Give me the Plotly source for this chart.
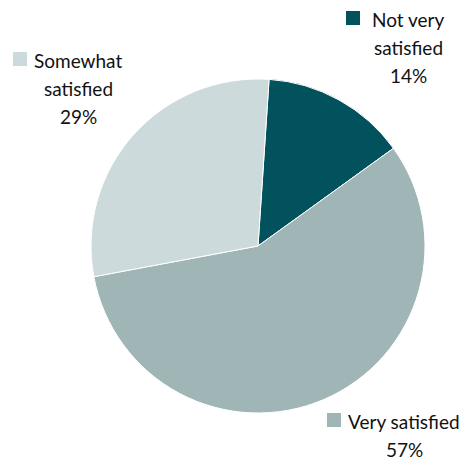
import plotly.graph_objects as go

labels = ['Not very satisfied', 'Very satisfied', 'Somewhat satisfied']
values = [14, 57, 29]
colors = ['#02525E', '#A0B6B6', '#CCDADB']

# label text lines, shown outside the pie next to a small colour key
label_lines = [['Not very', 'satisfied', '14%'],
               ['Very satisfied', '57%'],
               ['Somewhat', 'satisfied', '29%']]

W, H = 463, 461

def px(x):
    return x / W

def py(y):
    return 1 - y / H

fig = go.Figure()
fig.add_trace(go.Pie(labels=labels, values=values, sort=False, direction='clockwise',
                     rotation=3.8, textinfo='none', hoverinfo='label+percent',
                     marker=dict(colors=colors, line=dict(color='white', width=1)),
                     domain=dict(x=[px(91), px(425)], y=[py(413), py(79)])))

# where each label block sits (pixel centre x, first line y, key square left/top)
label_pos = [(408, 19, 346, 11), (404, 421, 327, 413), (78, 60, 13, 52)]
line_gap = 28.5

for lines, (cx, y0, kx, ky), col in zip(label_lines, label_pos, colors):
    for i, t in enumerate(lines):
        fig.add_annotation(x=px(cx), y=py(y0 + i * line_gap), xref='paper', yref='paper',
                           text=t, showarrow=False, xanchor='center', yanchor='middle',
                           font=dict(family='Lato', size=19, color='#111111'))
    fig.add_shape(type='rect', xref='paper', yref='paper',
                  x0=px(kx), x1=px(kx + 14), y0=py(ky + 14), y1=py(ky),
                  fillcolor=col, line=dict(width=0))

fig.update_layout(width=W, height=H, margin=dict(l=0, r=0, t=0, b=0),
                  showlegend=False, paper_bgcolor='white', plot_bgcolor='white')
# drop the default page margin so the figure fills the window
fig.write_html('out.html', config={'displayModeBar': False},
               post_script="document.body.style.margin='0';document.body.style.overflow='hidden';")
